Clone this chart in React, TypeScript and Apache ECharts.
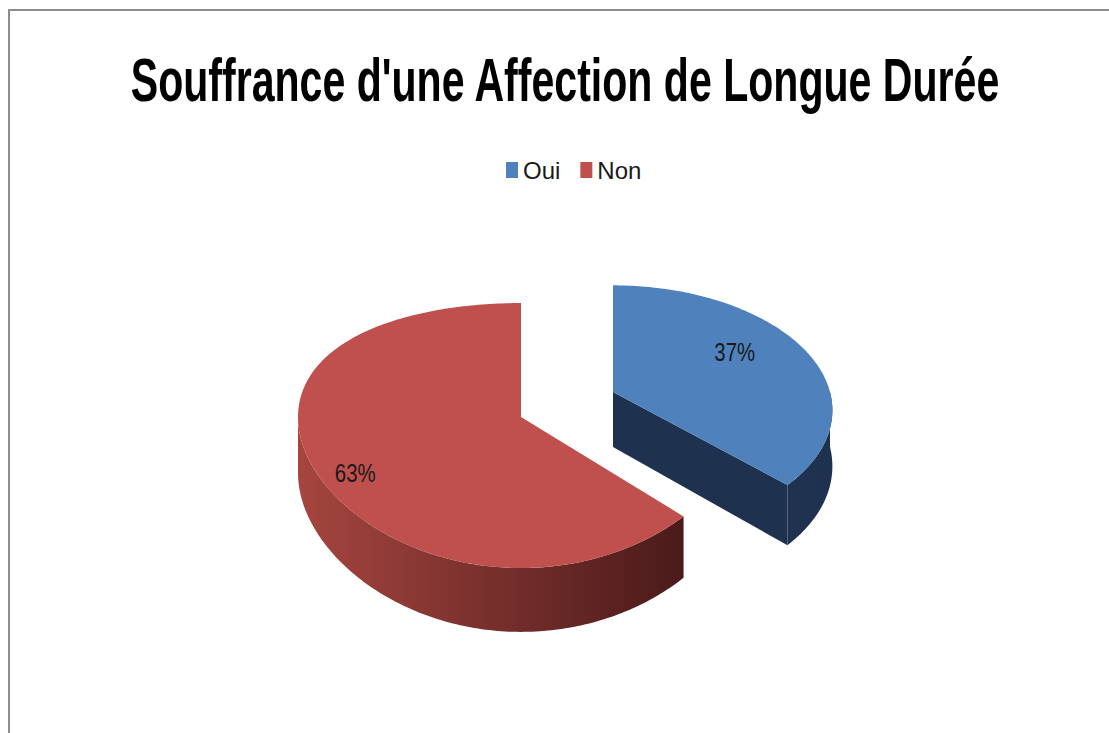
import React, { useEffect, useRef } from "react";
import * as echarts from "echarts";

const TITLE = "Souffrance d'une Affection de Longue Durée";
const categories = ["Oui", "Non"];
const values = [37, 63];
const topColors = ["#4F81BD", "#C0504D"];
const sideColors = [
  ["#1F3350", "#1E3250"],
  ["#A6453F", "#4A1A1A"],
];

// per-slice projected geometry (pixels): vertex, radii, perspective, thickness, label placement
const sliceGeom = [
  { cx: 613, cy: 392, rx: 217, ry: 124, px: 0.15, py: 0.14, d: 55, lf: 0.65, ly: -10 },
  { cx: 521, cy: 417, rx: 223, ry: 132.5, px: 0, py: 0.14, d: 56, lf: 0.81, ly: 11 },
];

const FONT = "'Liberation Sans', Arial, sans-serif";

function makeRender(i: number) {
  return (params: any, api: any) => {
    const v = api.value(0) as number;
    const total = values.reduce((a, b) => a + b, 0);
    const before = values.slice(0, i).reduce((a, b) => a + b, 0);
    const a0 = (before / total) * 2 * Math.PI;
    const a1 = ((before + v) / total) * 2 * Math.PI;
    const g = sliceGeom[i];
    const { cx, cy, rx, ry, px, py, d } = g;
    const P = (t: number, z = 0) => {
      const c = Math.cos(t);
      const wy = 1 - py * c;
      return [cx + rx * Math.sin(t) * (1 - px * c), cy - ry * c * wy + z * wy];
    };
    const arc = (s: number, e: number, z: number) => {
      const pts: number[][] = [];
      const n = Math.max(2, Math.ceil(Math.abs(e - s) / (Math.PI / 180)));
      for (let k = 0; k <= n; k++) pts.push(P(s + ((e - s) * k) / n, z));
      return pts;
    };
    const children: any[] = [];
    const sideFill = {
      type: "linear",
      x: 0,
      y: 0,
      x2: 1,
      y2: 0,
      colorStops: [
        { offset: 0, color: sideColors[i][0] },
        { offset: 1, color: sideColors[i][1] },
      ],
    };
    // cut faces
    if (Math.cos(a1 + Math.PI / 2) < -1e-6) {
      children.push({
        type: "polygon",
        shape: { points: [[cx, cy], P(a1), P(a1, d), [cx, cy + d]] },
        style: { fill: sideColors[i][1] },
      });
    }
    if (Math.cos(a0 - Math.PI / 2) < -1e-6) {
      children.push({
        type: "polygon",
        shape: { points: [[cx, cy], P(a0), P(a0, d), [cx, cy + d]] },
        style: { fill: sideColors[i][0] },
      });
    }
    // outer wall (front half)
    const ws = Math.max(a0, Math.PI / 2);
    const we = Math.min(a1, (3 * Math.PI) / 2);
    if (we > ws) {
      children.push({
        type: "polygon",
        shape: { points: [...arc(ws, we, 0), ...arc(we, ws, d)] },
        style: { fill: sideFill },
      });
    }
    // top face
    children.push({
      type: "polygon",
      shape: { points: [[cx, cy], ...arc(a0, a1, 0)] },
      style: { fill: topColors[i] },
    });
    // label
    const mid = (a0 + a1) / 2;
    const pm = P(mid);
    children.push({
      type: "text",
      x: cx + g.lf * (pm[0] - cx),
      y: cy + g.lf * (pm[1] - cy) + g.ly,
      scaleX: 0.85,
      scaleY: 1.1,
      style: {
        text: Math.round((v / total) * 100) + "%",
        fill: "#1a1a1a",
        fontSize: 24,
        fontFamily: FONT,
        align: "center",
        verticalAlign: "middle",
      },
    });
    return { type: "group", children };
  };
}

export default function App() {
  const ref = useRef<HTMLDivElement>(null);
  useEffect(() => {
    if (!ref.current) return;
    const chart = echarts.init(ref.current, undefined, { renderer: "svg" });
    chart.setOption({
      animation: false,
      backgroundColor: "#ffffff",
      legend: {
        data: categories,
        left: 501,
        top: 153,
        icon: "rect",
        itemWidth: 12,
        itemHeight: 16,
        itemGap: 20,
        textStyle: { fontFamily: FONT, fontSize: 24, color: "#1a1a1a" },
      },
      graphic: [
        {
          type: "rect",
          shape: { x: 9, y: 10, width: 1120, height: 760 },
          style: { fill: "none", stroke: "#8C8C8C", lineWidth: 2 },
          silent: true,
          z: -1,
        },
        {
          type: "text",
          x: 565,
          y: 80,
          scaleX: 0.79,
          scaleY: 1.16,
          style: {
            text: TITLE,
            fill: "#000",
            fontFamily: FONT,
            fontWeight: "bold",
            fontSize: 52,
            align: "center",
            verticalAlign: "middle",
          },
        },
      ],
      series: categories.map((c, i) => ({
        type: "custom",
        name: c,
        coordinateSystem: "none",
        itemStyle: { color: topColors[i] },
        data: [{ name: c, value: values[i] }],
        renderItem: makeRender(i),
      })),
    });
    return () => chart.dispose();
  }, []);
  return (
    <div
      ref={ref}
      style={{ position: "fixed", left: 0, top: 0, width: 1109, height: 733 }}
    />
  );
}
